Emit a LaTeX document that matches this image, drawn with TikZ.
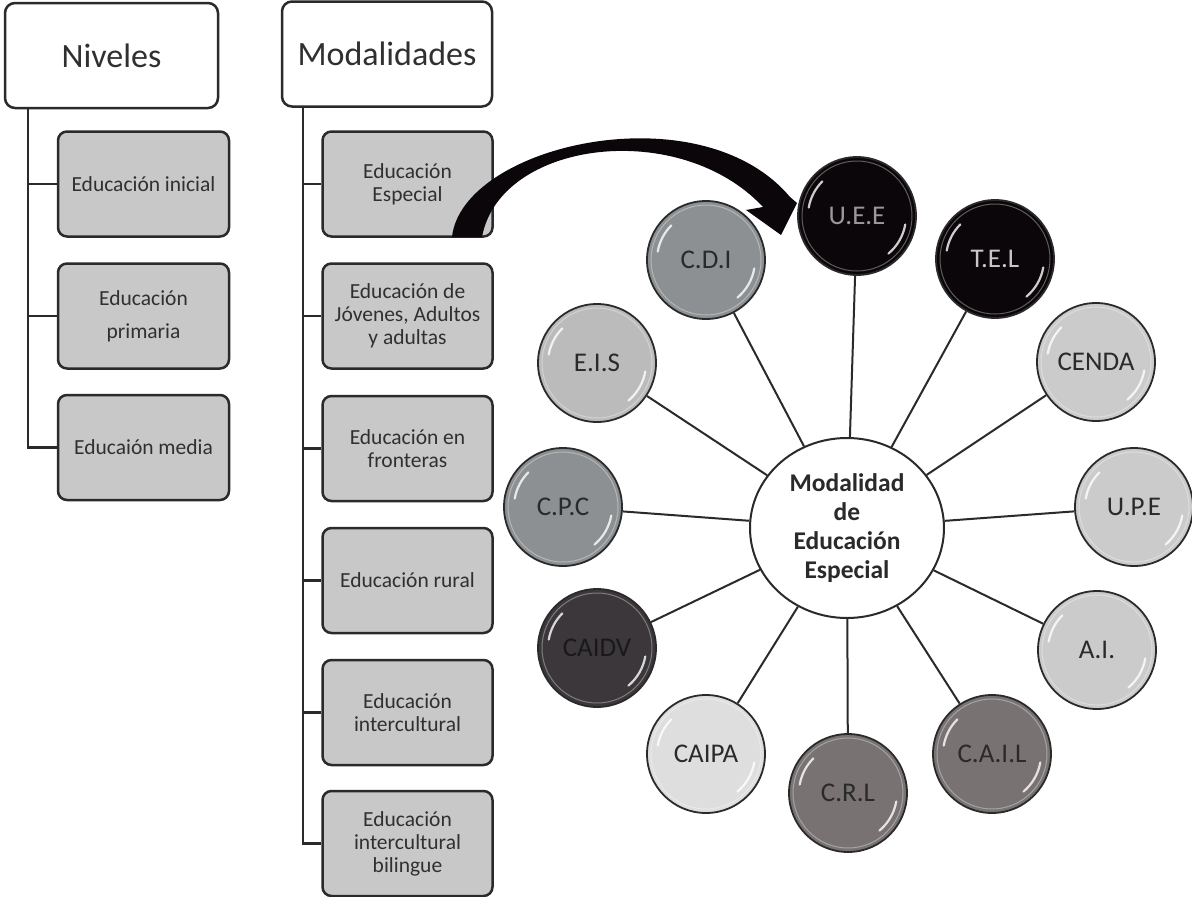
\documentclass[tikz,border=0pt]{standalone}
\usepackage{fontspec}
\setmainfont{Carlito}
\usetikzlibrary{shapes.geometric}
\definecolor{edge}{HTML}{2A2A2A}
\definecolor{txt}{HTML}{303030}
\definecolor{boxgray}{HTML}{C8C8C8}
\definecolor{cblack}{HTML}{0B0609}
\definecolor{cmid}{HTML}{8C9092}
\definecolor{clight}{HTML}{CBCBCB}
\definecolor{clighter}{HTML}{DEDEDE}
\definecolor{cdark}{HTML}{3B373A}
\definecolor{cbrown}{HTML}{787273}
\newcommand\gloss[1]{%
  \draw[white, opacity=.35, line width=1pt] (#1.center) circle[radius=55];
  \draw[white, line width=2.2pt, opacity=.8, line cap=round] ([shift={(135:49)}]#1.center) arc[start angle=135, end angle=170, radius=49];
  \draw[white, line width=2.2pt, opacity=.8, line cap=round] ([shift={(-10:49)}]#1.center) arc[start angle=-10, end angle=-50, radius=49];
}
\begin{document}
\begin{tikzpicture}[x=1pt,y=1pt,
  topbox/.style={draw=edge, line width=2.5pt, rounded corners=10pt, fill=white, minimum height=105pt, inner sep=0pt, font=\fontsize{34}{38}\selectfont, text=txt},
  subbox/.style={draw=edge, line width=2.5pt, rounded corners=9pt, fill=boxgray, minimum width=170pt, minimum height=105pt, inner sep=0pt, align=center, font=\fontsize{21.5}{23}\selectfont, text=txt},
  conn/.style={draw=edge, line width=2.5pt},
  bubble/.style={circle, draw=edge, line width=1.8pt, minimum size=118pt, inner sep=0pt, font=\fontsize{27}{30}\selectfont, text=edge},
  spoke/.style={draw=edge, line width=2pt}]
\useasboundingbox (0,0) rectangle (1192,-897);

% top boxes
\node[topbox, minimum width=213pt] (niv) at (111.5,-55.5) {Niveles};
\node[topbox, minimum width=210pt] (mod) at (387,-54) {Modalidades};

% Niveles children
\node[subbox, minimum width=171pt] (n1) at (143.5,-184) {Educación inicial};
\node[subbox, minimum width=171pt, font=\fontsize{21.5}{33}\selectfont] (n2) at (143.5,-316) {Educación\\primaria};
\node[subbox, minimum width=171pt] (n3) at (143.5,-447.5) {Educaión media};

% Modalidades children
\node[subbox] (m1) at (407.5,-184) {Educación\\Especial};
\node[subbox] (m2) at (407.5,-316) {Educación de\\Jóvenes, Adultos\\y adultas};
\node[subbox] (m3) at (407.5,-448.5) {Educación en\\fronteras};
\node[subbox] (m4) at (407.5,-580.5) {Educación rural};
\node[subbox] (m5) at (407.5,-712.5) {Educación\\intercultural};
\node[subbox] (m6) at (407.5,-843.5) {Educación\\intercultural\\bilingue};

% tree connectors
\coordinate (t1) at (28,-108);
\coordinate (t2) at (303,-106);
\draw[conn] (t1) |- (n3.west);
\draw[conn] (n1.west) -- (n1.west -| t1);
\draw[conn] (n2.west) -- (n2.west -| t1);
\draw[conn] (t2) |- (m6.west);
\foreach \m in {m1,m2,m3,m4,m5}{\draw[conn] (\m.west) -- (\m.west -| t2);}

% center
\node[ellipse, draw=edge, line width=2pt, fill=white, minimum width=194pt, minimum height=180pt, inner sep=0pt, align=center, font=\bfseries\fontsize{25.5}{29}\selectfont, text=edge] (mid) at (847,-528) {Modalidad\\de\\Educación\\Especial};

% bubbles
\node[bubble, fill=cblack, text=black!40] (uee) at (857,-216) {U.E.E};
\node[bubble, fill=cblack, text=black!22] (tel) at (995,-259) {T.E.L};
\node[bubble, fill=clight] (cenda) at (1096,-362) {CENDA};
\node[bubble, fill=clight] (upe) at (1134,-507) {U.P.E};
\node[bubble, fill=clight] (ai) at (1097,-650) {A.I.};
\node[bubble, fill=cbrown] (cail) at (992,-754) {C.A.I.L};
\node[bubble, fill=cbrown] (crl) at (848,-793) {C.R.L};
\node[bubble, fill=clighter] (caipa) at (706,-754) {CAIPA};
\node[bubble, fill=cdark, text=black!90] (caidv) at (597,-648) {CAIDV};
\node[bubble, fill=cmid] (cpc) at (563,-507) {C.P.C};
\node[bubble, fill=clight!92!black] (eis) at (597,-363) {E.I.S};
\node[bubble, fill=cmid] (cdi) at (706,-260) {C.D.I};

\foreach \b in {uee,tel,cenda,upe,ai,cail,crl,caipa,caidv,cpc,eis,cdi}{%
  \draw[spoke] (\b) -- (mid);
  \gloss{\b}
}

% big curved arrow
\fill[cblack] (452,-237) .. controls (462,-145) and (700,-90) .. (790,-197)
  -- (797,-203) -- (781,-235) -- (746,-210) -- (763,-207)
  .. controls (680,-118) and (500,-140) .. (482,-237) -- cycle;
\end{tikzpicture}
\end{document}
